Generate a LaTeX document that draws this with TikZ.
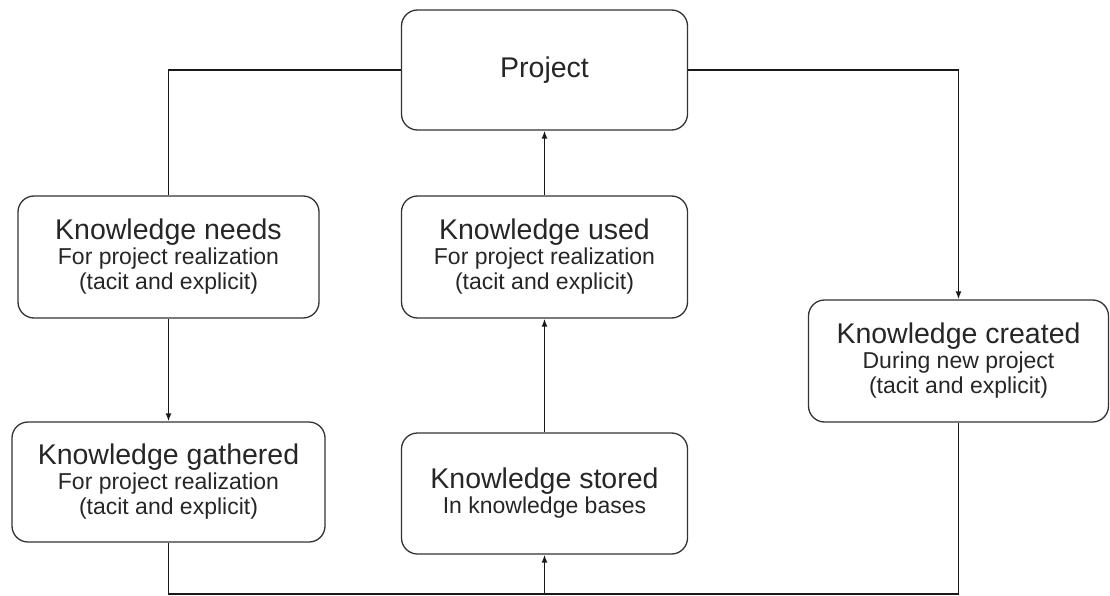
\documentclass[tikz,border=0pt]{standalone}
\usepackage{fontspec}
\setmainfont{Liberation Sans}
\usepackage{tikz}
\usetikzlibrary{arrows.meta, positioning, calc}

\newcommand{\titlefont}{\fontsize{28.5}{30}\selectfont}
\newcommand{\subfont}{\fontsize{23}{25}\selectfont}

\begin{document}
\begin{tikzpicture}[
        x=1pt, y=-1pt,
        kbox/.style={rectangle, rounded corners=16pt, draw=black!80, line width=1.3pt, align=center, font=\subfont, text=black!85, inner sep=0pt},
        arrow/.style={-{Latex[length=8pt, width=6pt]}, line width=1.7pt, draw=black!90},
        link/.style={line width=1.6pt, draw=black!90},
    ]
        \useasboundingbox (0,0) rectangle (1110,596);

        \node[kbox, minimum width=286pt, minimum height=120pt] (project) at (544.5,70) {\titlefont Project};
        \node[kbox, minimum width=301pt, minimum height=122pt] (needs) at (168.5,257) {{\titlefont Knowledge needs}\\ For project realization\\ (tacit and explicit)};
        \node[kbox, minimum width=286pt, minimum height=122pt] (used) at (544.5,257) {{\titlefont Knowledge used}\\ For project realization\\ (tacit and explicit)};
        \node[kbox, minimum width=300pt, minimum height=122pt] (created) at (958.5,361) {{\titlefont Knowledge created}\\ During new project\\ (tacit and explicit)};
        \node[kbox, minimum width=313pt, minimum height=120pt] (gathered) at (168.5,482) {{\titlefont Knowledge gathered}\\ For project realization\\ (tacit and explicit)};
        \node[kbox, minimum width=286pt, minimum height=121pt] (stored) at (544.5,493.5) {{\titlefont Knowledge stored}\\ In knowledge bases};
        \coordinate (base) at (544.5,594);

        \draw[link] (project.west) -| (needs.north);
        \draw[arrow] (project.east) -| (created.north);
        \draw[arrow] (needs) to (gathered);
        \draw[arrow] (used.north) to (project.south);
        \draw[arrow] (stored.north) to (used.south);
        \draw[link] (gathered.south) |- (base) -| (created.south);
        \draw[arrow] (base) to (stored.south);
    \end{tikzpicture}
\end{document}
